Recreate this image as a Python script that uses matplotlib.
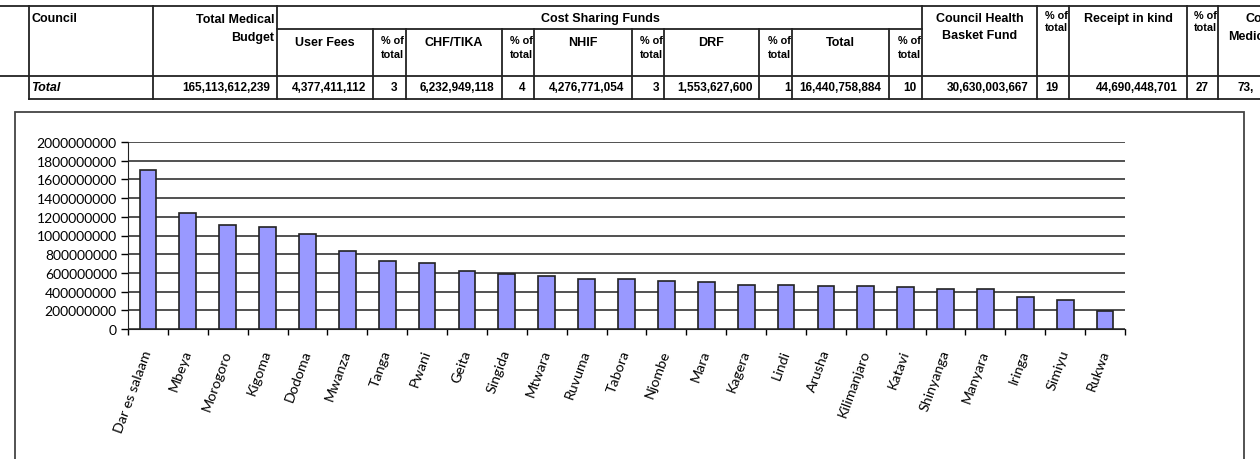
import matplotlib
matplotlib.use("Agg")
import matplotlib.pyplot as plt
from matplotlib.lines import Line2D
from matplotlib.patches import Rectangle
from matplotlib.ticker import FuncFormatter

W, H = 1260, 460

# ---- data ----
councils = ["Dar es salaam", "Mbeya", "Morogoro", "Kigoma", "Dodoma", "Mwanza", "Tanga",
            "Pwani", "Geita", "Singida", "Mtwara", "Ruvuma", "Tabora", "Njombe", "Mara",
            "Kagera", "Lindi", "Arusha", "Kilimanjaro", "Katavi", "Shinyanga", "Manyara",
            "Iringa", "Simiyu", "Rukwa"]
amounts = [1704e6, 1239e6, 1107e6, 1096e6, 1014e6, 829e6, 725e6,
           711e6, 618e6, 593e6, 568e6, 539e6, 539e6, 514e6, 504e6,
           475e6, 475e6, 461e6, 461e6, 446e6, 432e6, 432e6,
           343e6, 314e6, 189e6]
y_ticks = [0, 2e8, 4e8, 6e8, 8e8, 10e8, 12e8, 14e8, 16e8, 18e8, 20e8]

# table header / total row
fund_headers = ["User Fees", "CHF/TIKA", "NHIF", "DRF", "Total"]
total_row = ["165,113,612,239", "4,377,411,112", "3", "6,232,949,118", "4", "4,276,771,054", "3",
             "1,553,627,600", "1", "16,440,758,884", "10", "30,630,003,667", "19",
             "44,690,448,701", "27", "73,"]

fig = plt.figure(figsize=(W / 100, H / 100), dpi=100)

def fx(x):
    return x / W

def fy(y):
    return 1 - y / H

def hline(x0, x1, y, lw=1.3):
    fig.add_artist(Line2D([fx(x0), fx(x1)], [fy(y), fy(y)], color="#222222", lw=lw))

def vline(x, y0, y1, lw=1.3):
    fig.add_artist(Line2D([fx(x), fx(x)], [fy(y0), fy(y1)], color="#222222", lw=lw))

def txt(x, y, s, ha="left", size=9, **kw):
    fig.text(fx(x), fy(y), s, ha=ha, va="center", fontsize=size, fontweight="bold",
             family="Liberation Sans", **kw)

def pct_header(x_right, y1, y2):
    txt(x_right, y1, "% of", ha="right", size=7.8)
    txt(x_right, y2, "total", ha="right", size=7.8)

# ---- table ----
hline(0, W, 7)
hline(277, 922, 30)
hline(0, W, 77)
hline(29, W, 100)
for x in [29, 153, 277, 922, 1037, 1069, 1187, 1218]:
    vline(x, 7, 100)
for x in [373, 406, 502, 534, 632, 664, 759, 792, 889]:
    vline(x, 30, 100)

txt(31, 19, "Council")
txt(274, 20, "Total Medical", ha="right")
txt(274, 38, "Budget", ha="right")
txt(600, 19, "Cost Sharing Funds", ha="center")
fund_x = [325, 454, 583, 711, 840]
pct_x = [404, 533, 663, 791, 921]
for x, s in zip(fund_x, fund_headers):
    txt(x, 43, s, ha="center")
for x in pct_x:
    pct_header(x, 41, 55)
txt(980, 19, "Council Health", ha="center")
txt(980, 36, "Basket Fund", ha="center")
pct_header(1068, 16, 28)
txt(1128, 19, "Receipt in kind", ha="center")
pct_header(1217, 16, 28)
txt(1246, 19, "Council")
txt(1228, 37, "Medical")

txt(31, 88, "Total", style="italic")
val_right = [270, 366, 397, 494, 525, 624, 659, 753, 791, 881, 916, 1029, 1058, 1178, 1209]
for x, s in zip(val_right, total_row[:-1]):
    txt(x, 88, s, ha="right", size=8.5)
txt(1237, 88, total_row[-1], size=8.5)

# ---- chart ----
fig.add_artist(Rectangle((fx(15), fy(470)), fx(1244) - fx(15), fy(113) - fy(470),
                         fill=False, edgecolor="#444444", lw=1.3))

ax = fig.add_axes([fx(128), fy(330), fx(1125) - fx(128), fy(143) - fy(330)])
pos = list(range(len(councils)))
ax.bar(pos, amounts, width=0.42, color="#9999FF", edgecolor="#222222", linewidth=1.2, zorder=3)
ax.set_xlim(-0.5, len(councils) - 0.5)
ax.set_ylim(0, 2e9)
ax.set_yticks(y_ticks)
ax.yaxis.set_major_formatter(FuncFormatter(lambda v, p: "%d" % v))
ax.yaxis.grid(True, color="#333333", lw=1.2, zorder=0)
ax.set_xticks([p - 0.5 for p in pos] + [len(councils) - 0.5])
ax.set_xticklabels([])
ax.set_xticks(pos, minor=True)
ax.set_xticklabels(councils, minor=True, rotation=70, ha="right", va="center",
                   rotation_mode="anchor", fontsize=10.3, family="Lato")
ax.tick_params(axis="x", which="minor", length=0, pad=15)
ax.tick_params(axis="x", which="major", length=4, width=1, direction="out")
ax.tick_params(axis="y", length=5, width=1, labelsize=10, pad=3)
for lab in ax.get_yticklabels():
    lab.set_family("Lato")
ax.spines["top"].set_visible(False)
ax.spines["right"].set_visible(False)
ax.spines["left"].set_color("#222222")
ax.spines["bottom"].set_color("#222222")

fig.savefig("out.png", dpi=100)
